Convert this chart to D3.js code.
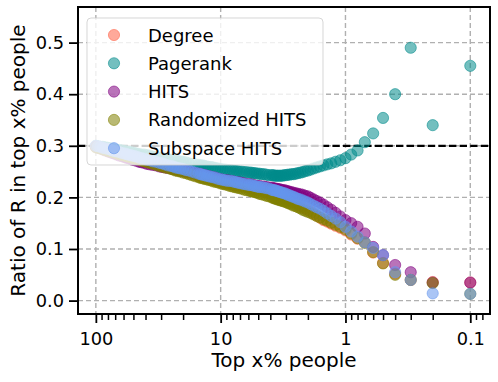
<!DOCTYPE html>
<html>
<head>
<meta charset="utf-8">
<script src="https://cdn.jsdelivr.net/npm/d3@7"></script>
<style>
  html, body { margin: 0; padding: 0; background: #fff; }
  svg { display: block; font-family: "DejaVu Sans", sans-serif; }
</style>
</head>
<body>
<svg id="chart" width="498" height="382"></svg>
<script>
// ---- Data ----
const xPct = [100, 96, 92, 88, 84, 80, 77, 74, 71, 68,
  65, 62, 59, 57, 55, 53, 51, 49, 47, 45,
  43, 41, 39, 37, 35, 33, 31, 29.5, 28, 26.5,
  25, 24, 23, 22, 21, 20, 19, 18, 17, 16,
  15, 14.5, 14, 13.5, 13, 12.5, 12, 11.5, 11, 10.5,
  10, 9.6, 9.2, 8.8, 8.4, 8.0, 7.7, 7.4, 7.1, 6.8,
  6.5, 6.2, 5.9, 5.7, 5.5, 5.3, 5.1, 4.9, 4.7, 4.5,
  4.3, 4.1, 3.9, 3.8, 3.7, 3.6, 3.5, 3.4, 3.3, 3.2,
  3.1, 3.0, 2.9, 2.8, 2.7, 2.6, 2.5, 2.4, 2.3, 2.2,
  2.1, 2.0, 1.9, 1.8, 1.7, 1.6, 1.5, 1.4, 1.3, 1.2,
  1.1, 1.0, 0.9, 0.8, 0.7, 0.6, 0.5, 0.4, 0.3, 0.2,
  0.1];

const degree = [0.299, 0.298, 0.297, 0.295, 0.294, 0.292, 0.291, 0.290, 0.289, 0.288,
  0.286, 0.285, 0.283, 0.282, 0.281, 0.280, 0.279, 0.278, 0.276, 0.275,
  0.274, 0.272, 0.271, 0.269, 0.268, 0.266, 0.264, 0.262, 0.261, 0.259,
  0.258, 0.256, 0.255, 0.254, 0.252, 0.251, 0.249, 0.248, 0.246, 0.244,
  0.242, 0.241, 0.240, 0.239, 0.238, 0.237, 0.236, 0.234, 0.233, 0.231,
  0.230, 0.229, 0.228, 0.227, 0.226, 0.225, 0.224, 0.224, 0.223, 0.222,
  0.221, 0.220, 0.219, 0.218, 0.217, 0.216, 0.215, 0.214, 0.213, 0.212,
  0.210, 0.209, 0.207, 0.206, 0.206, 0.205, 0.204, 0.203, 0.202, 0.201,
  0.200, 0.199, 0.197, 0.195, 0.193, 0.191, 0.189, 0.186, 0.184, 0.181,
  0.179, 0.176, 0.173, 0.169, 0.165, 0.161, 0.156, 0.153, 0.149, 0.145,
  0.141, 0.136, 0.128, 0.120, 0.113, 0.093, 0.073, 0.052, 0.040, 0.036,
  0.035];

const pagerank = [0.300, 0.299, 0.298, 0.298, 0.297, 0.296, 0.295, 0.294, 0.293, 0.292,
  0.292, 0.291, 0.290, 0.289, 0.288, 0.288, 0.287, 0.286, 0.285, 0.284,
  0.283, 0.283, 0.282, 0.281, 0.279, 0.278, 0.277, 0.276, 0.275, 0.274,
  0.273, 0.272, 0.271, 0.270, 0.270, 0.269, 0.268, 0.266, 0.265, 0.264,
  0.263, 0.262, 0.262, 0.261, 0.260, 0.259, 0.259, 0.258, 0.257, 0.256,
  0.255, 0.254, 0.254, 0.253, 0.253, 0.252, 0.251, 0.251, 0.250, 0.250,
  0.249, 0.249, 0.248, 0.248, 0.247, 0.247, 0.246, 0.246, 0.245, 0.245,
  0.244, 0.243, 0.243, 0.243, 0.242, 0.242, 0.242, 0.242, 0.242, 0.242,
  0.243, 0.243, 0.244, 0.244, 0.245, 0.245, 0.246, 0.247, 0.248, 0.249,
  0.251, 0.252, 0.254, 0.256, 0.258, 0.260, 0.262, 0.264, 0.266, 0.269,
  0.272, 0.276, 0.283, 0.291, 0.307, 0.324, 0.354, 0.400, 0.490, 0.340,
  0.455];

const hits = [0.298, 0.296, 0.295, 0.293, 0.291, 0.289, 0.288, 0.286, 0.285, 0.283,
  0.281, 0.280, 0.278, 0.277, 0.276, 0.275, 0.273, 0.272, 0.271, 0.269,
  0.268, 0.267, 0.265, 0.264, 0.263, 0.262, 0.260, 0.259, 0.258, 0.257,
  0.256, 0.255, 0.254, 0.253, 0.252, 0.251, 0.250, 0.249, 0.248, 0.247,
  0.246, 0.245, 0.244, 0.243, 0.242, 0.241, 0.240, 0.239, 0.238, 0.236,
  0.235, 0.234, 0.233, 0.233, 0.232, 0.231, 0.230, 0.229, 0.229, 0.228,
  0.227, 0.226, 0.225, 0.225, 0.224, 0.223, 0.222, 0.222, 0.221, 0.221,
  0.220, 0.219, 0.219, 0.218, 0.217, 0.217, 0.216, 0.216, 0.215, 0.214,
  0.214, 0.213, 0.212, 0.211, 0.210, 0.209, 0.208, 0.207, 0.206, 0.205,
  0.203, 0.202, 0.199, 0.196, 0.193, 0.190, 0.186, 0.181, 0.176, 0.170,
  0.163, 0.156, 0.150, 0.143, 0.130, 0.104, 0.088, 0.069, 0.055, 0.035,
  0.035];

const randomizedHits = [0.297, 0.296, 0.295, 0.293, 0.292, 0.290, 0.289, 0.288, 0.287, 0.285,
  0.284, 0.282, 0.281, 0.280, 0.279, 0.278, 0.277, 0.275, 0.274, 0.273,
  0.271, 0.270, 0.268, 0.267, 0.265, 0.263, 0.261, 0.260, 0.258, 0.257,
  0.255, 0.254, 0.252, 0.251, 0.250, 0.248, 0.247, 0.245, 0.243, 0.241,
  0.239, 0.238, 0.237, 0.236, 0.235, 0.234, 0.233, 0.231, 0.230, 0.229,
  0.227, 0.226, 0.225, 0.224, 0.222, 0.221, 0.220, 0.219, 0.218, 0.217,
  0.215, 0.214, 0.213, 0.212, 0.211, 0.210, 0.209, 0.207, 0.206, 0.205,
  0.203, 0.202, 0.200, 0.199, 0.198, 0.197, 0.196, 0.195, 0.194, 0.193,
  0.192, 0.191, 0.189, 0.188, 0.186, 0.184, 0.183, 0.181, 0.179, 0.176,
  0.174, 0.172, 0.170, 0.167, 0.164, 0.161, 0.158, 0.155, 0.151, 0.147,
  0.143, 0.138, 0.130, 0.121, 0.112, 0.094, 0.072, 0.050, 0.040, 0.034,
  0.013];

const subspaceHits = [0.300, 0.299, 0.298, 0.296, 0.295, 0.294, 0.293, 0.291, 0.290, 0.289,
  0.288, 0.286, 0.285, 0.284, 0.283, 0.282, 0.281, 0.280, 0.279, 0.277,
  0.276, 0.275, 0.273, 0.272, 0.270, 0.269, 0.267, 0.266, 0.264, 0.262,
  0.261, 0.260, 0.258, 0.257, 0.256, 0.255, 0.253, 0.252, 0.250, 0.248,
  0.246, 0.245, 0.244, 0.243, 0.242, 0.241, 0.240, 0.239, 0.238, 0.236,
  0.235, 0.234, 0.233, 0.232, 0.232, 0.231, 0.230, 0.229, 0.228, 0.227,
  0.226, 0.225, 0.224, 0.224, 0.223, 0.222, 0.221, 0.220, 0.220, 0.219,
  0.218, 0.217, 0.215, 0.214, 0.214, 0.213, 0.212, 0.211, 0.210, 0.209,
  0.208, 0.207, 0.205, 0.204, 0.202, 0.201, 0.199, 0.197, 0.196, 0.194,
  0.192, 0.190, 0.187, 0.184, 0.181, 0.178, 0.174, 0.169, 0.164, 0.159,
  0.152, 0.143, 0.134, 0.124, 0.113, 0.102, 0.088, 0.055, 0.040, 0.014,
  0.013];

const seriesNames = ["Degree", "Pagerank", "HITS", "Randomized HITS", "Subspace HITS"];
const seriesColors = ["#ff6347", "#008b8b", "#800080", "#808000", "#6495ed"];
const seriesValues = [degree, pagerank, hits, randomizedHits, subspaceHits];

const xMajorTicks = [100, 10, 1, 0.1];
const xMajorLabels = ["100", "10", "1", "0.1"];
const yTicks = [0.0, 0.1, 0.2, 0.3, 0.4, 0.5];
const yTickLabels = ["0.0", "0.1", "0.2", "0.3", "0.4", "0.5"];
const refLine = 0.3;

// ---- Layout ----
const svg = d3.select("#chart");
const L = 78, R = 490, T = 7, B = 314;

const x = d3.scaleLog().domain([139, 0.0695]).range([L, R]);
const y = d3.scaleLinear().domain([-0.026, 0.569]).range([B, T]);

const minorTicks = [];
[0.01, 0.1, 1, 10].forEach(d => {
  for (let k = 2; k <= 9; k++) {
    const v = +(d * k).toPrecision(3);
    if (v > 0.075 && v < 135) minorTicks.push(v);
  }
});

// grid
const gridColor = "#b0b0b0";
const grid = svg.append("g");
grid.selectAll("line.gx").data(xMajorTicks).enter().append("line")
  .attr("x1", d => x(d)).attr("x2", d => x(d)).attr("y1", T).attr("y2", B)
  .attr("stroke", gridColor).attr("stroke-width", 1.4).attr("stroke-dasharray", "5,3");
grid.selectAll("line.gy").data(yTicks).enter().append("line")
  .attr("x1", L).attr("x2", R).attr("y1", d => y(d)).attr("y2", d => y(d))
  .attr("stroke", gridColor).attr("stroke-width", 1.4).attr("stroke-dasharray", "5,3");

// reference line
svg.append("line")
  .attr("x1", L).attr("x2", R).attr("y1", y(refLine)).attr("y2", y(refLine))
  .attr("stroke", "#000").attr("stroke-width", 2.2).attr("stroke-dasharray", "7.4,3.2");

// points
const plot = svg.append("g");
seriesValues.forEach((vals, si) => {
  const data = xPct.map((p, i) => ({ p, v: vals[i] }));
  plot.append("g").selectAll("circle").data(data).enter().append("circle")
    .attr("cx", d => x(d.p)).attr("cy", d => y(d.v)).attr("r", 5.6)
    .attr("fill", seriesColors[si]).attr("fill-opacity", 0.55)
    .attr("stroke", seriesColors[si]).attr("stroke-opacity", 0.55).attr("stroke-width", 1);
});

// legend
const lg = svg.append("g");
lg.append("rect").attr("x", 87).attr("y", 18).attr("width", 236).attr("height", 147)
  .attr("rx", 4).attr("fill", "#fff").attr("fill-opacity", 0.8)
  .attr("stroke", "#cccccc").attr("stroke-opacity", 0.8).attr("stroke-width", 1);
seriesNames.forEach((name, i) => {
  const cy = 35 + i * 28.3;
  lg.append("circle").attr("cx", 114).attr("cy", cy).attr("r", 5.6)
    .attr("fill", seriesColors[i]).attr("fill-opacity", 0.55)
    .attr("stroke", seriesColors[i]).attr("stroke-opacity", 0.55).attr("stroke-width", 1);
  lg.append("text").attr("x", 148).attr("y", cy + 6.5)
    .attr("font-size", 18).attr("fill", "#000").text(name);
});

// axes
const xAxis = svg.append("g").attr("transform", `translate(0,${B})`)
  .call(d3.axisBottom(x).tickValues(xMajorTicks).tickFormat((d, i) => xMajorLabels[i])
    .tickSize(9).tickPadding(9));
xAxis.select(".domain").remove();
xAxis.selectAll(".tick line").attr("stroke", "#000").attr("stroke-width", 1.8);
xAxis.selectAll(".tick text").attr("font-size", 17.8).attr("fill", "#000")
  .attr("font-family", "DejaVu Sans");

const xMinor = svg.append("g").attr("transform", `translate(0,${B})`)
  .call(d3.axisBottom(x).tickValues(minorTicks).tickFormat("").tickSize(6));
xMinor.select(".domain").remove();
xMinor.selectAll(".tick line").attr("stroke", "#000").attr("stroke-width", 1.5);

const yAxis = svg.append("g").attr("transform", `translate(${L},0)`)
  .call(d3.axisLeft(y).tickValues(yTicks).tickFormat((d, i) => yTickLabels[i])
    .tickSize(9).tickPadding(5));
yAxis.select(".domain").remove();
yAxis.selectAll(".tick line").attr("stroke", "#000").attr("stroke-width", 1.8);
yAxis.selectAll(".tick text").attr("font-size", 17.8).attr("fill", "#000")
  .attr("font-family", "DejaVu Sans");

// spines
svg.append("rect").attr("x", L).attr("y", T).attr("width", R - L).attr("height", B - T)
  .attr("fill", "none").attr("stroke", "#000").attr("stroke-width", 2);

// axis labels
svg.append("text").attr("x", (L + R) / 2).attr("y", 367).attr("text-anchor", "middle")
  .attr("font-size", 20).attr("fill", "#000").text("Top x% people");
svg.append("text").attr("transform", `translate(25,${(T + B) / 2}) rotate(-90)`)
  .attr("text-anchor", "middle").attr("font-size", 20).attr("fill", "#000")
  .text("Ratio of R in top x% people");
</script>
</body>
</html>
